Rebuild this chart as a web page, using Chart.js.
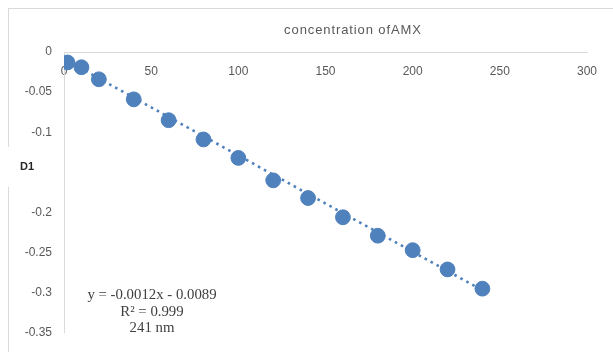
<!DOCTYPE html>
<html>
<head>
<meta charset="utf-8">
<script src="https://cdn.jsdelivr.net/npm/chart.js@4/dist/chart.umd.min.js"></script>
<style>
  html, body { margin: 0; padding: 0; background: #ffffff; }
  #wrap { width: 613px; height: 352px; }
</style>
</head>
<body>
<div id="wrap"><canvas id="chart" width="613" height="352"></canvas></div>
<script>
// Calibration series: concentration of AMX against D1 response
const concentration = [2, 10, 20, 40, 60, 80, 100, 120, 140, 160, 180, 200, 220, 240];
const d1Values = [-0.013, -0.019, -0.034, -0.059, -0.085, -0.109, -0.132, -0.160, -0.182, -0.206, -0.229, -0.247, -0.271, -0.295];

// Axis ticks
const xTickValues = [0, 50, 100, 150, 200, 250, 300];
const yTickValues = [0, -0.05, -0.1, -0.15, -0.2, -0.25, -0.3, -0.35];

// Linear fit shown on the chart
const fitSlope = -0.0012;
const fitIntercept = -0.0089;
const fitLabelLines = ['y = -0.0012x - 0.0089', 'R\u00b2 = 0.999', '241 nm'];

const xAxisTitle = 'concentration ofAMX';
const yAxisTitle = 'D1';

const blue = '#4f81bd';
const axisGray = '#d9d9d9';
const tickGray = '#595959';

const fitStart = concentration[0];
const fitEnd = concentration[concentration.length - 1];
const fitPoints = [fitStart, fitEnd].map(x => ({ x: x, y: fitSlope * x + fitIntercept }));

// Frame around the whole chart, plus axis titles and fit annotation
const decorations = {
  id: 'decorations',
  beforeDraw(chart) {
    const ctx = chart.ctx;
    ctx.save();
    ctx.fillStyle = '#ffffff';
    ctx.fillRect(0, 0, chart.width, chart.height);
    ctx.strokeStyle = axisGray;
    ctx.lineWidth = 1;
    ctx.strokeRect(8.5, 8.5, chart.width + 20, chart.height + 20);
    ctx.restore();
  },
  afterDraw(chart) {
    const ctx = chart.ctx;
    ctx.save();
    // vertical axis title box
    ctx.fillStyle = '#ffffff';
    ctx.fillRect(3, 147, 50, 40);
    ctx.fillStyle = '#262626';
    ctx.font = 'bold 11px "Liberation Sans", Arial, sans-serif';
    ctx.textAlign = 'center';
    ctx.textBaseline = 'middle';
    ctx.fillText(yAxisTitle, 27, 167);
    // horizontal axis title
    ctx.fillStyle = tickGray;
    ctx.font = '13px "Liberation Sans", Arial, sans-serif';
    ctx.letterSpacing = '0.9px';
    ctx.fillText(xAxisTitle, 353, 30);
    ctx.letterSpacing = '0px';
    // fit equation
    ctx.fillStyle = '#404040';
    ctx.font = '14.8px "Liberation Serif", "DejaVu Serif", serif';
    fitLabelLines.forEach((line, i) => ctx.fillText(line, 152, 295 + i * 16.8));
    ctx.restore();
  }
};

new Chart(document.getElementById('chart'), {
  type: 'scatter',
  data: {
    datasets: [
      {
        label: 'D1',
        data: concentration.map((x, i) => ({ x: x, y: d1Values[i] })),
        backgroundColor: blue,
        borderColor: blue,
        pointRadius: 7.4,
        pointHoverRadius: 7.4,
        order: 1
      },
      {
        type: 'line',
        label: 'Linear fit',
        data: fitPoints,
        borderColor: blue,
        borderWidth: 2.6,
        borderDash: [2.6, 4.2],
        pointRadius: 0,
        fill: false,
        order: 2
      }
    ]
  },
  options: {
    responsive: false,
    animation: false,
    devicePixelRatio: 1,
    layout: { padding: { left: 9, top: 0, right: 26, bottom: 17 } },
    plugins: {
      legend: { display: false },
      tooltip: { enabled: false }
    },
    scales: {
      x: {
        type: 'linear',
        position: 'top',
        min: 0,
        max: 300,
        afterBuildTicks(scale) { scale.ticks = xTickValues.map(v => ({ value: v })); },
        afterFit(scale) { scale.height = 52; },
        grid: { display: false, drawTicks: false },
        border: { display: true, color: axisGray, width: 1 },
        ticks: {
          mirror: true,
          padding: 12,
          color: tickGray,
          font: { family: '"Liberation Sans", Arial, sans-serif', size: 12 },
          maxRotation: 0,
          autoSkip: false,
          callback: v => String(v)
        }
      },
      y: {
        type: 'linear',
        min: -0.35,
        max: 0,
        afterBuildTicks(scale) { scale.ticks = yTickValues.map(v => ({ value: v })); },
        afterFit(scale) { scale.width = 55; },
        grid: { display: false, drawTicks: false },
        border: { display: true, color: axisGray, width: 1 },
        ticks: {
          padding: 12,
          color: tickGray,
          autoSkip: false,
          font: { family: '"Liberation Sans", Arial, sans-serif', size: 12 },
          callback: v => (Math.abs(v + 0.15) < 1e-9 ? '' : String(+v.toFixed(2)))
        }
      }
    }
  },
  plugins: [decorations]
});
</script>
</body>
</html>
